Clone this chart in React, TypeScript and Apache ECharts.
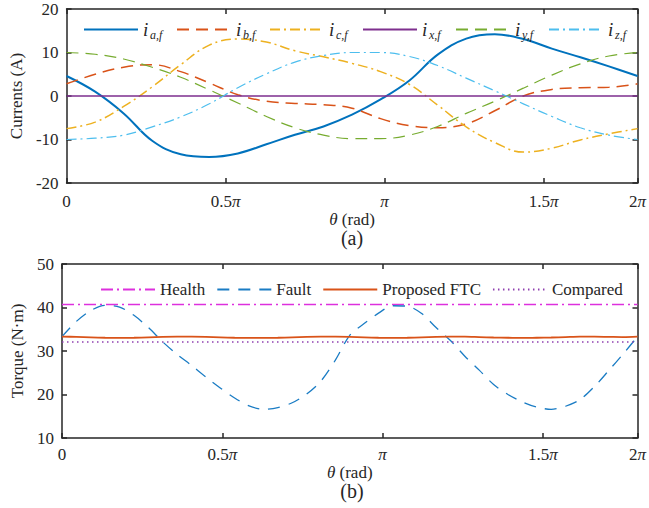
import React, { useEffect, useRef } from 'react';
import * as echarts from 'echarts';

// ---------- data ----------
// x positions in axis units (0..1000 spans the plotted range; tick every 278.5)
const thetaTop = [0, 50, 100, 150, 200, 250, 300, 350, 400, 450, 500, 550, 600, 650, 700, 750, 800, 850, 900, 950, 1000];
const iaF = [4.6, 1.0, -4.0, -10.3, -13.4, -14.0, -13.2, -11.1, -8.9, -7.0, -4.3, -0.8, 3.5, 9.5, 13.2, 14.2, 13.1, 10.9, 8.9, 6.8, 4.6];
const ibF = [2.8, 5.0, 6.6, 7.2, 5.6, 3.0, 0.3, -1.2, -1.7, -2.0, -2.8, -5.2, -6.8, -7.3, -6.4, -3.4, 0.0, 1.5, 1.9, 2.0, 2.8];
const icF = [-7.5, -6.0, -2.4, 2.1, 7.2, 11.7, 13.1, 12.4, 10.4, 9.0, 7.5, 5.6, 2.7, -2.1, -7.1, -10.7, -12.9, -12.0, -10.1, -8.7, -7.5];
const ixF = [0, 0, 0, 0, 0, 0, 0, 0, 0, 0, 0, 0, 0, 0, 0, 0, 0, 0, 0, 0, 0];
const iyF = [10, 9.6, 8.5, 6.6, 4.3, 1.4, -1.6, -4.7, -7.3, -9.0, -9.8, -9.8, -9.0, -7.0, -4.0, -1.2, 1.8, 4.8, 7.4, 9.2, 10];
const izF = [-10, -9.7, -9.0, -7.1, -4.8, -1.8, 1.9, 5.1, 7.8, 9.3, 10.0, 10.0, 9.1, 7.0, 4.1, 1.2, -1.8, -4.7, -7.3, -9.0, -10];

const thetaBottom = [0, 25, 50, 75, 100, 125, 150, 175, 200, 225, 250, 275, 300, 325, 350, 375, 400, 425, 450, 475, 500,
  525, 550, 575, 600, 625, 650, 675, 700, 725, 750, 775, 800, 825, 850, 875, 900, 925, 950, 975, 1000];
const faultTorque = [33.3, 36.8, 39.3, 40.5, 40.1, 38.2, 35.4, 32.1, 29.2, 26.7, 24.0, 21.5, 19.2, 17.4, 16.6, 17.0, 18.1, 20.1, 23.1, 27.9, 33.6,
  36.3, 38.7, 40.4, 40.3, 38.6, 35.4, 32.4, 28.8, 25.6, 22.3, 20.0, 18.3, 17.1, 16.6, 17.3, 18.8, 21.8, 25.5, 29.3, 33.3];
const ftcTorque = [33.3, 33.25, 33.15, 33.05, 33.0, 33.05, 33.15, 33.25, 33.3, 33.3, 33.25, 33.15, 33.05, 33.0, 33.0, 33.05, 33.15, 33.25, 33.3, 33.3, 33.25,
  33.15, 33.05, 33.0, 33.05, 33.15, 33.25, 33.3, 33.3, 33.2, 33.1, 33.05, 33.0, 33.05, 33.1, 33.2, 33.3, 33.3, 33.25, 33.2, 33.3];
const flatTheta = [0, 1000];
const healthTorque = [40.7, 40.7];
const comparedTorque = [32.05, 32.05];

const xTickLabels = ['{n|0}', '{n|0.5}{p|π}', '{p|π}', '{n|1.5}{p|π}', '{n|2}{p|π}'];
const topLegendNames = ['ia', 'ib', 'ic', 'ix', 'iy', 'iz'];
const topLegendSubs = ['a,f', 'b,f', 'c,f', 'x,f', 'y,f', 'z,f'];
const bottomLegendNames = ['Health', 'Fault', 'Proposed FTC', 'Compared'];

// ---------- helpers ----------
const X_MAX = 1000;
const X_STEP = 278.5;
const FONT = 'Liberation Serif';
const INK = '#262626';

const pairs = (xs: number[], ys: number[]) => xs.map((x, i) => [x, ys[i]]);

const xFmt = (v: number) => {
  if (v >= X_MAX - 1) return xTickLabels[4];
  const k = Math.round(v / X_STEP);
  return xTickLabels[k] ?? '';
};

const lineAx = { show: true, onZero: false, lineStyle: { color: INK, width: 1.5 } };
const tickAx = { show: true, inside: true, length: 5, lineStyle: { color: INK, width: 1.5 } };
const up = { fontFamily: FONT, fontSize: 17, color: INK };
const it = { fontFamily: FONT, fontSize: 17, color: INK, fontStyle: 'italic' };

function xAxes(gridIndex: number, labelMargin: number, nameGap: number) {
  return [
    {
      type: 'value', gridIndex, position: 'bottom', min: 0, max: X_MAX, interval: X_STEP,
      axisLine: lineAx, axisTick: tickAx, splitLine: { show: false },
      axisLabel: {
        formatter: xFmt, margin: labelMargin, ...up,
        rich: { n: up, p: it },
      },
      name: '{t|θ}{r| (rad)}', nameLocation: 'middle', nameGap,
      nameTextStyle: { ...up, rich: { t: it, r: up } },
    },
    {
      type: 'value', gridIndex, position: 'top', min: 0, max: X_MAX, interval: X_STEP,
      axisLine: lineAx, axisTick: tickAx, splitLine: { show: false }, axisLabel: { show: false },
    },
  ];
}

function yAxes(gridIndex: number, min: number, max: number, name: string, nameGap: number) {
  return [
    {
      type: 'value', gridIndex, position: 'left', min, max, interval: 10,
      axisLine: lineAx, axisTick: tickAx, splitLine: { show: false },
      axisLabel: { margin: 8, ...up },
      name, nameLocation: 'middle', nameGap,
      nameTextStyle: up,
    },
    {
      type: 'value', gridIndex, position: 'right', min, max, interval: 10,
      axisLine: lineAx, axisTick: tickAx, splitLine: { show: false }, axisLabel: { show: false },
    },
  ];
}

function lineSeries(name: string, xs: number[], ys: number[], xi: number, yi: number, color: string,
  width: number, type: any, smooth: number) {
  return {
    type: 'line', name, xAxisIndex: xi, yAxisIndex: yi, data: pairs(xs, ys),
    showSymbol: false, symbol: 'none', smooth, color,
    lineStyle: { color, width, type },
  };
}

export default function App() {
  const ref = useRef<HTMLDivElement>(null);

  useEffect(() => {
    if (!ref.current) return;
    const chart = echarts.init(ref.current, undefined, { renderer: 'svg' });

    const option: any = {
      animation: false,
      backgroundColor: '#ffffff',
      textStyle: { fontFamily: FONT, color: INK },
      grid: [
        { left: 62, top: 9, width: 577, height: 174 },
        { left: 62, top: 264, width: 578, height: 174 },
      ],
      xAxis: [...xAxes(0, 10, 26), ...xAxes(1, 8, 12)],
      yAxis: [...yAxes(0, -20, 20, 'Currents (A)', 36), ...yAxes(1, 10, 50, 'Torque (N·m)', 33)],
      legend: [
        {
          data: topLegendNames, left: 78, top: 15, itemWidth: 54, itemHeight: 14, itemGap: 7,
          itemStyle: { opacity: 0 },
          formatter: (name: string) => `{i|i}{s|${topLegendSubs[topLegendNames.indexOf(name)]}}`,
          textStyle: {
            color: INK, fontFamily: FONT,
            rich: {
              i: { fontFamily: FONT, fontStyle: 'italic', fontSize: 19, color: INK, width: 7, lineHeight: 22, verticalAlign: 'middle' },
              s: { fontFamily: FONT, fontStyle: 'italic', fontSize: 12, color: INK, width: 19, lineHeight: 12, verticalAlign: 'bottom' },
            },
          },
        },
        {
          data: bottomLegendNames, left: 95, top: 276, itemWidth: 54, itemHeight: 14, itemGap: 11,
          itemStyle: { opacity: 0 },
          textStyle: { ...up },
        },
      ],
      graphic: [
        { type: 'text', x: 352, y: 238, style: { text: '(a)', fontFamily: FONT, fontSize: 20, fill: INK, align: 'center', verticalAlign: 'middle' } },
        { type: 'text', x: 352, y: 491, style: { text: '(b)', fontFamily: FONT, fontSize: 20, fill: INK, align: 'center', verticalAlign: 'middle' } },
      ],
      series: [
        lineSeries('ia', thetaTop, iaF, 0, 0, '#0072BD', 2, 'solid', 0.4),
        lineSeries('ib', thetaTop, ibF, 0, 0, '#D95319', 1.5, [12, 7], 0.4),
        lineSeries('ic', thetaTop, icF, 0, 0, '#EDB120', 1.5, [10, 4, 2, 4], 0.4),
        lineSeries('ix', thetaTop, ixF, 0, 0, '#7E2F8E', 1.5, 'solid', 0),
        lineSeries('iy', thetaTop, iyF, 0, 0, '#77AC30', 1.2, [12, 7], 0.4),
        lineSeries('iz', thetaTop, izF, 0, 0, '#4DBEEE', 1.2, [10, 4, 2, 4], 0.4),
        lineSeries('Health', flatTheta, healthTorque, 2, 2, '#DD30DD', 1.5, [12, 4, 2, 4], 0),
        lineSeries('Fault', thetaBottom, faultTorque, 2, 2, '#1A7CC4', 1.3, [12, 9], 0.3),
        lineSeries('Proposed FTC', thetaBottom, ftcTorque, 2, 2, '#D95319', 1.8, 'solid', 0.3),
        lineSeries('Compared', flatTheta, comparedTorque, 2, 2, '#9040B0', 1.5, [1.5, 3.5], 0),
      ],
    };

    chart.setOption(option);
    return () => chart.dispose();
  }, []);

  return (
    <div
      ref={ref}
      style={{ position: 'fixed', left: 0, top: 0, width: 649, height: 508, background: '#fff' }}
    />
  );
}
